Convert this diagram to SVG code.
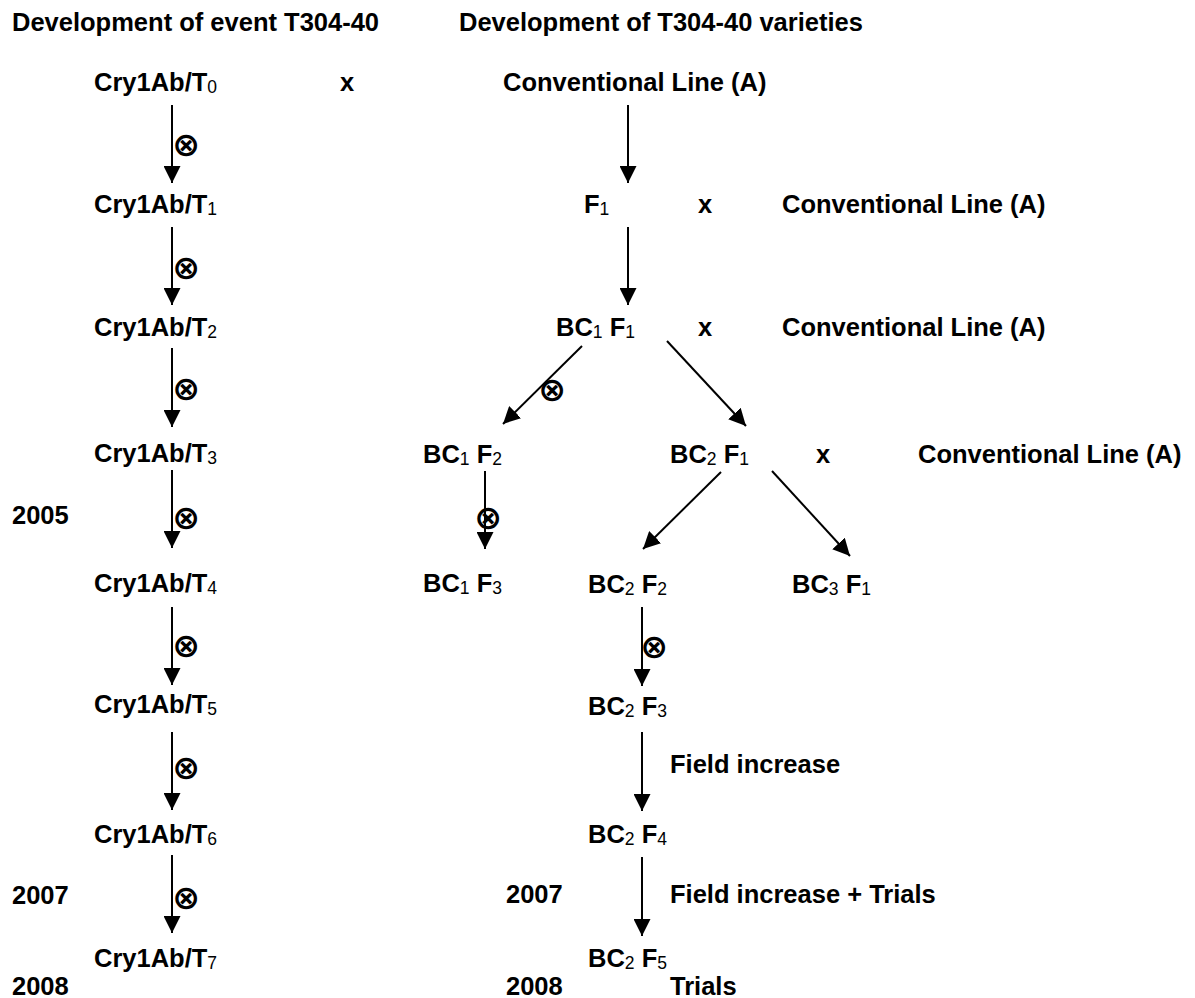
<svg xmlns="http://www.w3.org/2000/svg" width="1195" height="998" viewBox="0 0 1195 998">
<style>
text{font-family:"Liberation Sans",Arial,sans-serif;font-weight:bold;font-size:25.5px;fill:#000}
.s{font-weight:normal;font-size:17.5px}
.o{font-family:"DejaVu Sans",sans-serif;font-weight:bold;font-size:33px;text-anchor:middle;dominant-baseline:central}
.c line{stroke:#000;stroke-width:2;marker-end:url(#ah)}
</style>
<defs>
<marker id="ah" markerUnits="userSpaceOnUse" markerWidth="17" markerHeight="17" viewBox="0 0 17 17" refX="17" refY="8.5" orient="auto"><path d="M0,0 L17,8.5 L0,17 Z" fill="#000"/></marker>
</defs>
<rect width="1195" height="998" fill="#fff"/>
<g id="headers">
<text x="12" y="31">Development of event T304-40</text>
<text x="459" y="31">Development of T304-40 varieties</text>
</g>
<g id="years">
<text x="12" y="524">2005</text>
<text x="12" y="904">2007</text>
<text x="12" y="995">2008</text>
<text x="506" y="903">2007</text>
<text x="506" y="995">2008</text>
</g>
<g id="T0"><text x="94" y="91">Cry1Ab/T<tspan class="s" dy="2">0</tspan></text></g>
<g id="T1"><text x="94" y="213">Cry1Ab/T<tspan class="s" dy="2">1</tspan></text></g>
<g id="T2"><text x="94" y="336">Cry1Ab/T<tspan class="s" dy="2">2</tspan></text></g>
<g id="T3"><text x="94" y="462">Cry1Ab/T<tspan class="s" dy="2">3</tspan></text></g>
<g id="T4"><text x="94" y="592">Cry1Ab/T<tspan class="s" dy="2">4</tspan></text></g>
<g id="T5"><text x="94" y="713">Cry1Ab/T<tspan class="s" dy="2">5</tspan></text></g>
<g id="T6"><text x="94" y="843">Cry1Ab/T<tspan class="s" dy="2">6</tspan></text></g>
<g id="T7"><text x="94" y="967">Cry1Ab/T<tspan class="s" dy="2">7</tspan></text></g>
<g id="cross-marks">
<text x="340" y="91">x</text>
<text x="698" y="213">x</text>
<text x="698" y="336">x</text>
<text x="816" y="463">x</text>
</g>
<g id="CL0"><text x="503" y="91">Conventional Line (A)</text></g>
<g id="CL1"><text x="782" y="213">Conventional Line (A)</text></g>
<g id="CL2"><text x="782" y="336">Conventional Line (A)</text></g>
<g id="CL3"><text x="918" y="463">Conventional Line (A)</text></g>
<g id="F1"><text x="584" y="213">F<tspan class="s" dy="2">1</tspan></text></g>
<g id="BC1F1"><text x="556" y="336">BC<tspan class="s" dy="2">1</tspan><tspan dy="-2"> F</tspan><tspan class="s" dy="2">1</tspan></text></g>
<g id="BC1F2"><text x="423" y="463">BC<tspan class="s" dy="2">1</tspan><tspan dy="-2"> F</tspan><tspan class="s" dy="2">2</tspan></text></g>
<g id="BC2F1"><text x="670" y="463">BC<tspan class="s" dy="2">2</tspan><tspan dy="-2"> F</tspan><tspan class="s" dy="2">1</tspan></text></g>
<g id="BC1F3"><text x="423" y="592">BC<tspan class="s" dy="2">1</tspan><tspan dy="-2"> F</tspan><tspan class="s" dy="2">3</tspan></text></g>
<g id="BC2F2"><text x="588" y="593">BC<tspan class="s" dy="2">2</tspan><tspan dy="-2"> F</tspan><tspan class="s" dy="2">2</tspan></text></g>
<g id="BC3F1"><text x="792" y="593">BC<tspan class="s" dy="2">3</tspan><tspan dy="-2"> F</tspan><tspan class="s" dy="2">1</tspan></text></g>
<g id="BC2F3"><text x="588" y="715">BC<tspan class="s" dy="2">2</tspan><tspan dy="-2"> F</tspan><tspan class="s" dy="2">3</tspan></text></g>
<g id="BC2F4"><text x="588" y="843">BC<tspan class="s" dy="2">2</tspan><tspan dy="-2"> F</tspan><tspan class="s" dy="2">4</tspan></text></g>
<g id="BC2F5"><text x="588" y="967">BC<tspan class="s" dy="2">2</tspan><tspan dy="-2"> F</tspan><tspan class="s" dy="2">5</tspan></text></g>
<g id="connectors" class="c">
<line x1="172" y1="105" x2="172" y2="183"/>
<line x1="172" y1="227" x2="172" y2="305"/>
<line x1="172" y1="348" x2="172" y2="427"/>
<line x1="172" y1="470" x2="172" y2="548"/>
<line x1="172" y1="607" x2="172" y2="685"/>
<line x1="172" y1="732" x2="172" y2="810"/>
<line x1="172" y1="855" x2="172" y2="933"/>
<line x1="628" y1="105" x2="628" y2="183"/>
<line x1="628" y1="227" x2="628" y2="305"/>
<line x1="582" y1="346" x2="503" y2="424"/>
<line x1="667" y1="341" x2="746" y2="426"/>
<line x1="485" y1="471" x2="485" y2="549"/>
<line x1="721" y1="472" x2="643" y2="549"/>
<line x1="772" y1="471" x2="850" y2="556"/>
<line x1="642" y1="607" x2="642" y2="686"/>
<line x1="642" y1="732" x2="642" y2="811"/>
<line x1="642" y1="857" x2="642" y2="936"/>
</g>
<g id="edge-labels">
<text class="o" x="186" y="144">⊗</text>
<text class="o" x="186" y="267">⊗</text>
<text class="o" x="186" y="388">⊗</text>
<text class="o" x="186" y="517">⊗</text>
<text class="o" x="186" y="645">⊗</text>
<text class="o" x="186" y="767">⊗</text>
<text class="o" x="186" y="897">⊗</text>
<text class="o" x="552" y="389">⊗</text>
<text class="o" x="488" y="517">⊗</text>
<text class="o" x="654" y="646">⊗</text>
<text x="670" y="773">Field increase</text>
<text x="670" y="903">Field increase + Trials</text>
<text x="670" y="995">Trials</text>
</g>
</svg>
